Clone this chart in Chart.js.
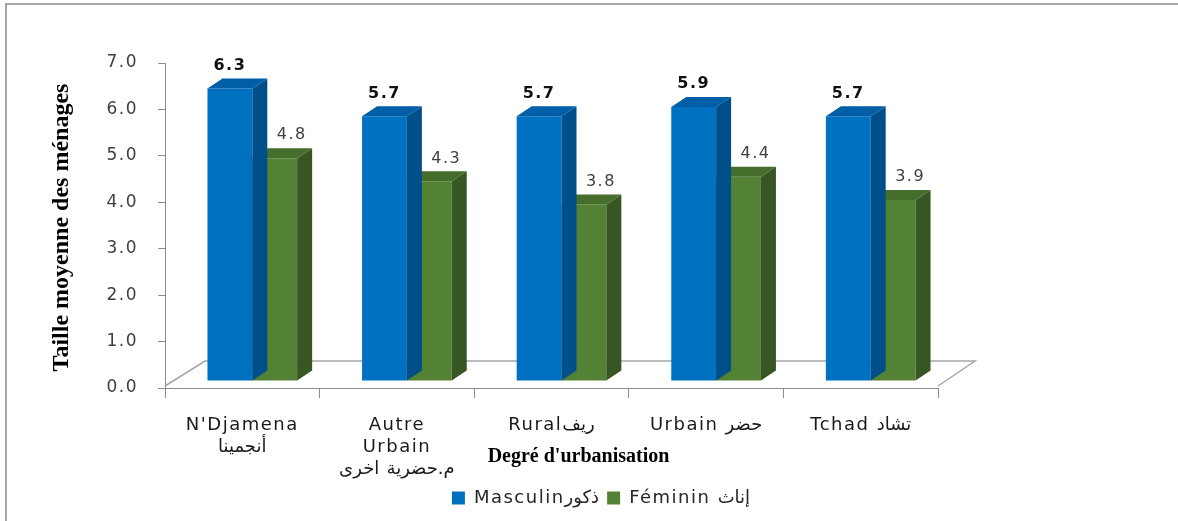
<!DOCTYPE html>
<html>
<head>
<meta charset="utf-8">
<script src="https://cdn.jsdelivr.net/npm/chart.js@4/dist/chart.umd.min.js"></script>
<style>
    html, body { margin: 0; padding: 0; background: #ffffff; }
    #chart { display: block; }
</style>
</head>
<body>
<canvas id="chart" width="1178" height="521"></canvas>
<script>
// Data
const categories = [
    ["N'Djamena", 'أنجمينا'],
    ['Autre', 'Urbain', 'م.حضرية اخرى'],
    'Ruralريف',
    'Urbain حضر',
    'Tchad تشاد'
];
const masculin = [6.3, 5.7, 5.7, 5.9, 5.7];
const feminin = [4.8, 4.3, 3.8, 4.4, 3.9];
const seriesNames = ['Masculinذكور', 'Féminin إناث'];
const yTicks = [0, 1, 2, 3, 4, 5, 6, 7];

const yTitle = 'Taille moyenne des ménages';
const xTitle = "Degré d'urbanisation";

// Colors: front, side, top
const blue = { front: '#0070c0', side: '#004f8a', top: '#005ea6' };
const green = { front: '#548235', side: '#375623', top: '#456d2b' };

// 3D look
const DEPTH_X = 15;
const DEPTH_Y = -10;
const SHIFT_X = 10;
const SHIFT_Y = -7;
const AXIS_GREY = '#8c8c8c';

// Spread letters a bit, the reference text is wide
function setSpacing(ctx) {
    ctx.letterSpacing = '1.5px';
}

const bars3d = {
    id: 'bars3d',
    beforeUpdate(chart) {
        setSpacing(chart.ctx);
    },
    beforeDraw(chart) {
        const ctx = chart.ctx;
        setSpacing(ctx);
        // outer frame
        ctx.save();
        ctx.strokeStyle = '#a6a6a6';
        ctx.lineWidth = 2;
        ctx.strokeRect(6, 4, chart.width + 20, chart.height + 20);
        ctx.restore();
    },
    beforeDatasetsDraw(chart) {
        const { ctx, chartArea: a } = chart;
        // floor
        ctx.save();
        ctx.strokeStyle = '#a6a6a6';
        ctx.lineWidth = 1.5;
        ctx.beginPath();
        ctx.moveTo(a.left, a.bottom - 2);
        ctx.lineTo(a.left + 40, a.bottom - 27);
        ctx.lineTo(a.right + 37, a.bottom - 27);
        ctx.lineTo(a.right, a.bottom - 2);
        ctx.stroke();
        ctx.restore();

        // bars sit a little up and right, like on the 3D floor
        ctx.save();
        ctx.translate(SHIFT_X, SHIFT_Y);
    },
    afterDatasetDraw(chart, args) {
        const ctx = chart.ctx;
        const colors = args.index === 0 ? blue : green;
        args.meta.data.forEach(bar => {
            const { x, y, base, width } = bar.getProps(['x', 'y', 'base', 'width'], true);
            const l = x - width / 2;
            const r = x + width / 2;

            // side face
            ctx.fillStyle = colors.side;
            ctx.beginPath();
            ctx.moveTo(r, base);
            ctx.lineTo(r, y);
            ctx.lineTo(r + DEPTH_X, y + DEPTH_Y);
            ctx.lineTo(r + DEPTH_X, base + DEPTH_Y);
            ctx.closePath();
            ctx.fill();

            // top face
            ctx.fillStyle = colors.top;
            ctx.beginPath();
            ctx.moveTo(l, y);
            ctx.lineTo(r, y);
            ctx.lineTo(r + DEPTH_X, y + DEPTH_Y);
            ctx.lineTo(l + DEPTH_X, y + DEPTH_Y);
            ctx.closePath();
            ctx.fill();
        });
    },
    afterDatasetsDraw(chart) {
        const ctx = chart.ctx;
        // value labels
        chart.data.datasets.forEach((ds, i) => {
            const meta = chart.getDatasetMeta(i);
            ctx.save();
            ctx.textAlign = 'center';
            ctx.textBaseline = 'bottom';
            if (i === 0) {
                ctx.font = 'bold 16px "DejaVu Sans"';
                ctx.fillStyle = '#111111';
            } else {
                ctx.font = '16px "DejaVu Sans"';
                ctx.fillStyle = '#404040';
            }
            meta.data.forEach((bar, j) => {
                const { x, y } = bar.getProps(['x', 'y'], true);
                const dx = i === 0 ? 0 : 17;
                ctx.fillText(ds.data[j].toFixed(1), x + dx, y + DEPTH_Y - 5);
            });
            ctx.restore();
        });
        ctx.restore();
    },
    afterDraw(chart) {
        const { ctx, chartArea: a } = chart;
        ctx.save();
        ctx.letterSpacing = '0px';
        ctx.fillStyle = '#000000';
        ctx.textAlign = 'center';
        ctx.textBaseline = 'middle';

        // y title
        ctx.font = 'bold 24px "Liberation Serif"';
        ctx.translate(62, (a.top + a.bottom) / 2 + 2);
        ctx.rotate(-Math.PI / 2);
        ctx.fillText(yTitle, 0, 0);
        ctx.setTransform(1, 0, 0, 1, 0, 0);

        // x title
        ctx.font = 'bold 20px "Liberation Serif"';
        ctx.fillText(xTitle, (a.left + a.right) / 2 + 27, 457);
        ctx.restore();
    }
};

const ctx = document.getElementById('chart').getContext('2d');

const chart = new Chart(ctx, {
    type: 'bar',
    data: {
        labels: categories,
        datasets: [
            {
                label: seriesNames[0],
                data: masculin,
                backgroundColor: blue.front,
                borderWidth: 0,
                categoryPercentage: 0.58,
                barPercentage: 1
            },
            {
                label: seriesNames[1],
                data: feminin,
                backgroundColor: green.front,
                borderWidth: 0,
                categoryPercentage: 0.58,
                barPercentage: 1
            }
        ]
    },
    options: {
        responsive: false,
        animation: false,
        devicePixelRatio: 1,
        layout: {
            padding: { top: 63, left: 24, right: 0, bottom: 4 }
        },
        plugins: {
            legend: {
                position: 'bottom',
                labels: {
                    color: '#262626',
                    boxWidth: 13,
                    boxHeight: 13,
                    padding: 8,
                    font: { family: 'DejaVu Sans', size: 18 }
                }
            },
            tooltip: { enabled: false }
        },
        scales: {
            x: {
                grid: {
                    offset: true,
                    drawOnChartArea: false,
                    tickLength: 10,
                    color: AXIS_GREY
                },
                border: { color: AXIS_GREY },
                ticks: {
                    color: '#1a1a1a',
                    padding: 17,
                    maxRotation: 0,
                    autoSkip: false,
                    font: { family: 'DejaVu Sans', size: 18, lineHeight: 1.2 }
                },
                afterFit: (scale) => { scale.height = 93; }
            },
            y: {
                min: 0,
                max: 7,
                afterBuildTicks: (scale) => {
                    scale.ticks = yTicks.map(v => ({ value: v }));
                },
                grid: {
                    drawOnChartArea: false,
                    tickLength: 7,
                    color: AXIS_GREY
                },
                border: { color: AXIS_GREY },
                ticks: {
                    color: '#404040',
                    padding: 20,
                    font: { family: 'DejaVu Sans', size: 17 },
                    callback: (v) => Number(v).toFixed(1)
                },
                afterFit: (scale) => { scale.width = 141; }
            },
            spacer: {
                position: 'right',
                display: true,
                grid: { display: false },
                border: { display: false },
                ticks: { display: false },
                afterFit: (scale) => { scale.width = 240; }
            }
        }
    },
    plugins: [bars3d]
});
</script>
</body>
</html>
